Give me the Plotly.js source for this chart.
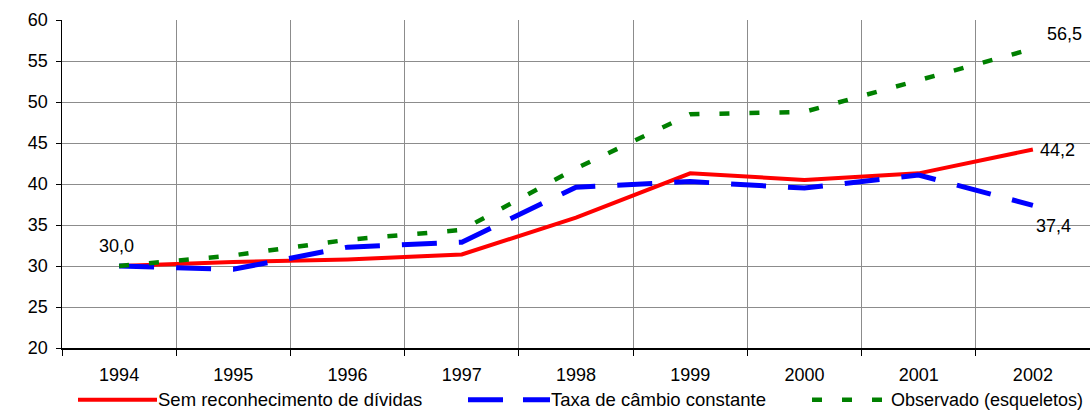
<!DOCTYPE html>
<html>
<head>
<meta charset="utf-8">
<script src="https://cdn.plot.ly/plotly-3.0.1.min.js"></script>
<style>html,body{margin:0;padding:0;background:#fff;}#chart{width:1090px;height:411px;}</style>
</head>
<body>
<div id="chart"></div>
<script>
const years = ["1994","1995","1996","1997","1998","1999","2000","2001","2002"];
const semReconhecimento = [30.0, 30.5, 30.8, 31.4, 35.9, 41.3, 40.5, 41.3, 44.2];
const taxaConstante = [30.0, 29.6, 32.3, 32.9, 39.6, 40.3, 39.5, 41.1, 37.4];
const observado = [30.0, 31.3, 33.2, 34.4, 41.9, 48.5, 48.8, 52.6, 56.5];
const seriesNames = ["Sem reconhecimento de dívidas", "Taxa de câmbio constante", "Observado (esqueletos)"];
const yTicks = [20, 25, 30, 35, 40, 45, 50, 55, 60];

const FONT = "Liberation Sans, Arial, sans-serif";
const fmt = v => v.toFixed(1).replace(".", ",");

const traces = [
  {x: years, y: semReconhecimento, name: seriesNames[0], mode: "lines",
   line: {color: "#ff0000", width: 4}},
  {x: years, y: taxaConstante, name: seriesNames[1], mode: "lines",
   line: {color: "#0000ff", width: 5, dash: "35px,22px"}},
  {x: years, y: observado, name: seriesNames[2], mode: "lines",
   line: {color: "#008000", width: 4.5, dash: "10px,20px"}}
];

const last = years.length - 1;
const annotations = [
  {x: 0, y: semReconhecimento[0], text: fmt(semReconhecimento[0]), xshift: -3, yshift: 20},
  {x: last, y: observado[last], text: fmt(observado[last]), xshift: 32, yshift: 15},
  {x: last, y: semReconhecimento[last], text: fmt(semReconhecimento[last]), xshift: 25, yshift: 0},
  {x: last, y: taxaConstante[last], text: fmt(taxaConstante[last]), xshift: 21, yshift: -21}
].map(a => Object.assign({xref: "x", yref: "y", showarrow: false,
  xanchor: "center", yanchor: "middle",
  font: {family: FONT, size: 18, color: "#000"}}, a));

// custom legend (line samples + labels)
const legendY = -0.158;
const legendItems = [
  {x0: 78, x1: 157, color: "#ff0000", width: 4, dash: "solid", tx: 157, size: 18.5, label: seriesNames[0]},
  {x0: 468, x1: 550, color: "#0000ff", width: 5, dash: "35px,20px", tx: 550, size: 18.5, label: seriesNames[1]},
  {x0: 812, x1: 884, color: "#008000", width: 4.5, dash: "10px,20px", tx: 890, size: 18, label: seriesNames[2]}
];
const plotL = 62, plotW = 1028;
const shapes = legendItems.map(it => ({
  type: "line", xref: "paper", yref: "paper",
  x0: (it.x0 - plotL) / plotW, x1: (it.x1 - plotL) / plotW, y0: legendY, y1: legendY,
  line: {color: it.color, width: it.width, dash: it.dash}
}));
legendItems.forEach(it => annotations.push({
  xref: "paper", yref: "paper", x: (it.tx - plotL) / plotW, y: legendY,
  xanchor: "left", yanchor: "middle", text: it.label, showarrow: false,
  borderpad: 0,
  font: {family: FONT, size: it.size, color: "#000"}
}));

const layout = {
  width: 1090, height: 411,
  margin: {l: 62, r: 0, t: 20, b: 63},
  paper_bgcolor: "#fff", plot_bgcolor: "#fff",
  showlegend: false,
  font: {family: FONT, size: 18, color: "#000"},
  xaxis: {
    type: "category", range: [-0.5, 8.5], tickson: "boundaries",
    showgrid: true, gridcolor: "#8c8c8c", gridwidth: 1,
    showline: true, linecolor: "#000", linewidth: 1.5,
    ticks: "outside", ticklen: 6, tickcolor: "#000",
    ticklabelstandoff: 10,
    tickfont: {family: FONT, size: 18, color: "#000"},
    zeroline: false, fixedrange: true
  },
  yaxis: {
    range: [20, 60], tickvals: yTicks, ticktext: yTicks.map(String),
    showgrid: true, gridcolor: "#8c8c8c", gridwidth: 1,
    showline: true, linecolor: "#000", linewidth: 1.5,
    ticks: "outside", ticklen: 5, tickcolor: "#000",
    ticklabelstandoff: 4,
    tickfont: {family: FONT, size: 18, color: "#000"},
    zeroline: false, fixedrange: true
  },
  shapes: shapes,
  annotations: annotations
};

Plotly.newPlot("chart", traces, layout, {displayModeBar: false, staticPlot: true});
</script>
</body>
</html>
